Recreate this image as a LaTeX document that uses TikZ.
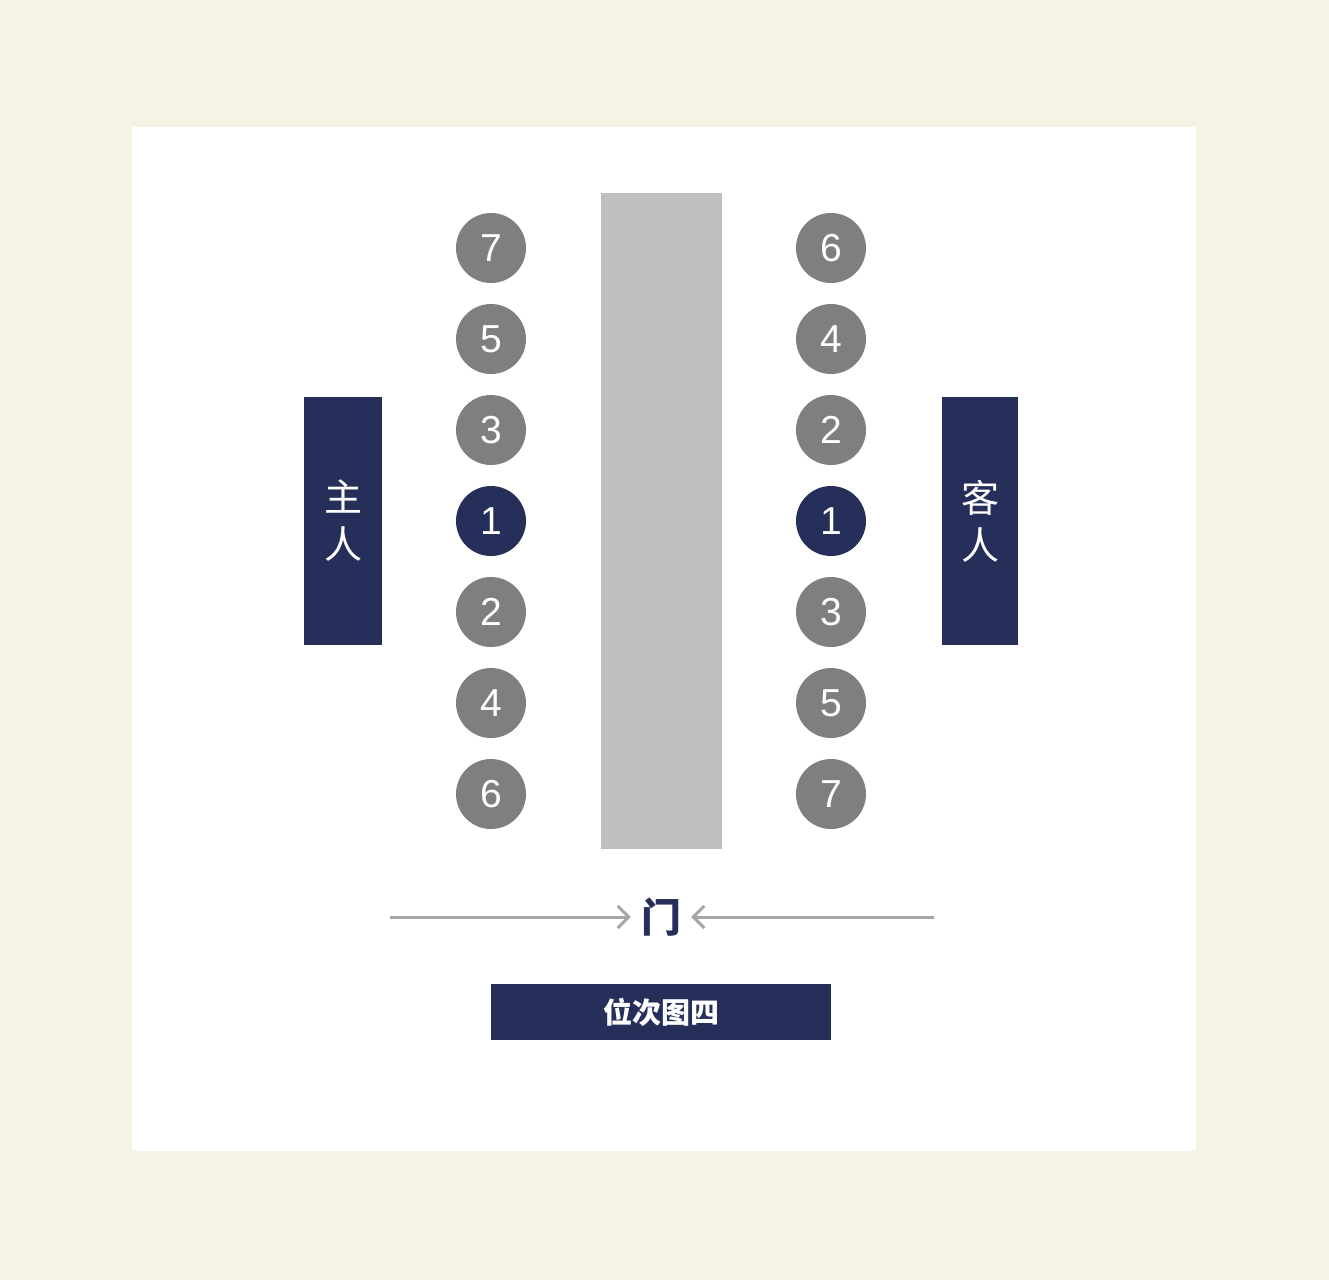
\documentclass[tikz,border=0pt]{standalone}
\usepackage{fontspec}
\setmainfont{Liberation Sans}
\newfontfamily\cjk{Noto Sans CJK SC}
\usetikzlibrary{arrows.meta}
\definecolor{cream}{HTML}{F5F3E3}
\definecolor{navy}{HTML}{262F5A}
\definecolor{seatgray}{HTML}{7F7F7F}
\definecolor{tablegray}{HTML}{BFBFBF}
\definecolor{arrowgray}{HTML}{A6A6A6}
\tikzset{
  seat/.style={circle, fill=seatgray, minimum size=70pt, inner sep=0pt, text=white, font=\fontsize{39}{40}\selectfont},
  seatmain/.style={seat, fill=navy},
  sidebox/.style={fill=navy, text=white, inner sep=0pt, align=center, font=\cjk\fontsize{38}{47}\selectfont},
  doorarrow/.style={draw=arrowgray, line width=3pt, -{Straight Barb[length=11pt,width=22pt,line width=3pt]}},
}
\begin{document}
\begin{tikzpicture}[x=1pt,y=-1pt]
\fill[cream] (0,0) rectangle (1329,1280);
\fill[white] (132,127) rectangle (1196,1151);
\useasboundingbox (0,0) rectangle (1329,1280);
% table
\fill[tablegray] (601,193) rectangle (722,849);
% left seats
\foreach \n/\y [count=\i] in {7/248,5/339,3/430,1/521,2/612,4/703,6/794}{
  \ifnum\n=1
    \node[seatmain] (L\n) at (491,\y) {\n};
  \else
    \node[seat] (L\n) at (491,\y) {\n};
  \fi
}
\foreach \n/\y [count=\i] in {6/248,4/339,2/430,1/521,3/612,5/703,7/794}{
  \ifnum\n=1
    \node[seatmain] (R\n) at (831,\y) {\n};
  \else
    \node[seat] (R\n) at (831,\y) {\n};
  \fi
}
% side boxes
\node[sidebox, minimum width=78pt, minimum height=248pt] (host) at (343,521) {主\\人};
\node[sidebox, minimum width=76pt, minimum height=248pt] (guest) at (980,521) {客\\人};
% door
\node[text=navy, font=\cjk\bfseries\fontsize{40}{40}\selectfont, inner sep=0pt] (door) at (661,917) {门};
\coordinate (la) at (390,917);
\coordinate (ra) at (934,917);
\draw[doorarrow] (la) -- ([xshift=-10pt]door.west);
\draw[doorarrow] (ra) -- ([xshift=10pt]door.east);
% caption
\node[fill=navy, text=white, minimum width=340pt, minimum height=56pt, inner sep=0pt, font=\cjk\bfseries\fontsize{29}{30}\selectfont] (caption) at (661,1012) {位次图四};
\end{tikzpicture}
\end{document}
